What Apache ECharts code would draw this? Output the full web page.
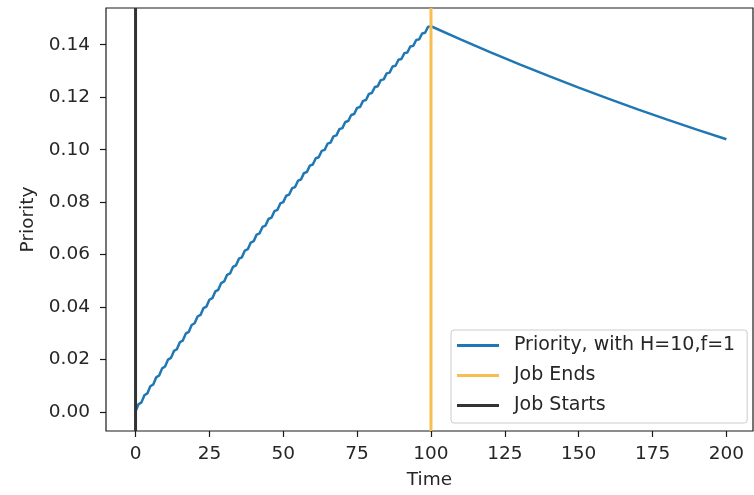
<!DOCTYPE html>
<html>
<head>
<meta charset="utf-8">
<script src="https://cdn.jsdelivr.net/npm/echarts@6/dist/echarts.min.js"></script>
<style>html,body{margin:0;padding:0;background:#fff}#c{width:754px;height:495px}</style>
</head>
<body>
<div id="c"></div>
<script>
const timeValues = [
  0,1,2,3,4,5,6,7,8,9,10,11,12,13,14,15,16,17,18,19,20,21,22,23,24,25,26,27,28,29,
  30,31,32,33,34,35,36,37,38,39,40,41,42,43,44,45,46,47,48,49,50,51,52,53,54,55,56,57,58,59,
  60,61,62,63,64,65,66,67,68,69,70,71,72,73,74,75,76,77,78,79,80,81,82,83,84,85,86,87,88,89,
  90,91,92,93,94,95,96,97,98,99,100,110,120,130,140,150,160,170,180,190,200
];
const priorityValues = [
  0.0003,0.00301,0.00371,0.00642,0.00713,0.00984,0.01054,0.01325,0.01396,0.01666,
  0.01737,0.02002,0.02067,0.02331,0.02396,0.02661,0.02726,0.02991,0.03055,0.03320,
  0.03385,0.03644,0.03704,0.03963,0.04022,0.04282,0.04341,0.04600,0.04659,0.04919,
  0.04978,0.05232,0.05286,0.05539,0.05593,0.05847,0.05901,0.06155,0.06208,0.06462,
  0.06516,0.06765,0.06813,0.07062,0.07110,0.07359,0.07408,0.07656,0.07705,0.07953,
  0.08002,0.08246,0.08289,0.08533,0.08576,0.08820,0.08863,0.09107,0.09150,0.09394,
  0.09437,0.09676,0.09714,0.09953,0.09991,0.10230,0.10269,0.10507,0.10546,0.10784,
  0.10823,0.11057,0.11091,0.11325,0.11359,0.11593,0.11626,0.11860,0.11894,0.12128,
  0.12162,0.12391,0.12421,0.12650,0.12680,0.12909,0.12938,0.13168,0.13197,0.13427,
  0.13456,0.13681,0.13706,0.13931,0.13956,0.14181,0.14205,0.14430,0.14455,0.14680,
  0.14705,0.14204,0.13720,0.13253,0.12801,0.12365,0.11944,0.11537,0.11144,0.10765,0.10398
];
const jobStart = 0;
const jobEnd = 100;
const xTicks = [0,25,50,75,100,125,150,175,200];
const yTicks = [0.00,0.02,0.04,0.06,0.08,0.10,0.12,0.14];
const seriesNames = ['Priority, with H=10,f=1','Job Ends','Job Starts'];

const X_MIN = -10, X_MAX = 209, Y_MIN = -0.0072, Y_MAX = 0.154;
const FONT = 'DejaVu Sans';
const TXT = '#262626';
const FRAME = '#1a1a1a';

const chart = echarts.init(document.getElementById('c'), null, {renderer:'canvas'});
const priorityData = timeValues.map((t,i)=>[t, priorityValues[i]]);

chart.setOption({
  animation:false,
  backgroundColor:'#fff',
  grid:{left:106,right:1,top:8,bottom:62,show:true,borderColor:FRAME,borderWidth:1.2,backgroundColor:'transparent'},
  xAxis:{
    type:'value',min:X_MIN,max:X_MAX,
    name:'Time',nameLocation:'middle',nameGap:40,
    nameTextStyle:{fontFamily:FONT,fontSize:18.5,color:TXT},
    axisLine:{show:false,onZero:false},
    splitLine:{show:false},
    axisTick:{show:true,inside:false,length:6,lineStyle:{color:FRAME,width:1.2},customValues:xTicks},
    axisLabel:{fontFamily:FONT,fontSize:18.5,color:TXT,margin:14,customValues:xTicks,formatter:v=>String(v)}
  },
  yAxis:{
    type:'value',min:Y_MIN,max:Y_MAX,
    name:'Priority',nameLocation:'middle',nameGap:68,nameRotate:90,
    nameTextStyle:{fontFamily:FONT,fontSize:18.5,color:TXT},
    axisLine:{show:false,onZero:false},
    splitLine:{show:false},
    axisTick:{show:true,inside:false,length:6,lineStyle:{color:FRAME,width:1.2},customValues:yTicks},
    axisLabel:{fontFamily:FONT,fontSize:18.5,color:TXT,margin:16,customValues:yTicks,formatter:v=>v.toFixed(2)}
  },
  legend:{
    orient:'vertical',left:451,top:330,
    data:seriesNames,
    icon:'rect',itemWidth:42,itemHeight:3,itemGap:11,
    padding:[6,12,8,6],
    backgroundColor:'rgba(255,255,255,0.8)',borderColor:'#cccccc',borderWidth:1,borderRadius:3,
    textStyle:{fontFamily:FONT,fontSize:19,color:TXT,padding:[0,0,0,10]}
  },
  series:[
    {name:seriesNames[0],type:'line',data:priorityData,showSymbol:false,
     lineStyle:{color:'#1f77b4',width:2.5},itemStyle:{color:'#1f77b4'},z:2},
    {name:seriesNames[1],type:'line',data:[[jobEnd,Y_MIN],[jobEnd,Y_MAX]],showSymbol:false,
     lineStyle:{color:'#f7be52',width:3},itemStyle:{color:'#f7be52'},z:3},
    {name:seriesNames[2],type:'line',data:[[jobStart,Y_MIN],[jobStart,Y_MAX]],showSymbol:false,
     lineStyle:{color:'#333333',width:3},itemStyle:{color:'#333333'},z:4}
  ]
});
</script>
</body>
</html>
